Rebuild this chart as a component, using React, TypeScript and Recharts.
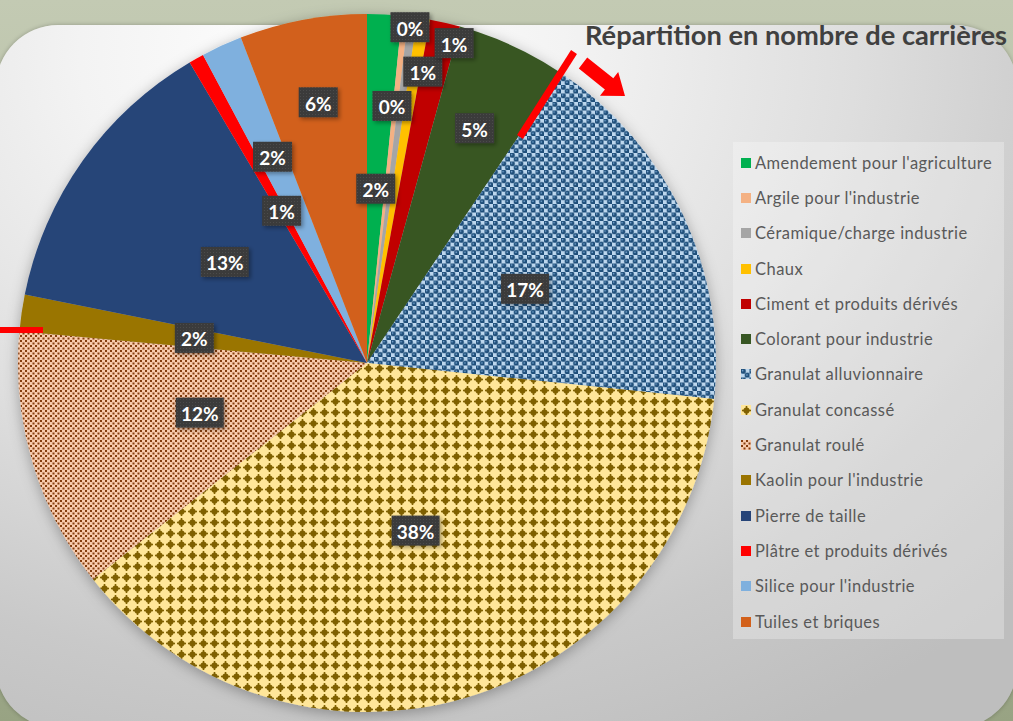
import React from 'react';
import { PieChart, Pie, Cell, Legend } from 'recharts';

// parts des carrières par usage (en %)
const categories = [
  "Amendement pour l'agriculture",
  "Argile pour l'industrie",
  'Céramique/charge industrie',
  'Chaux',
  'Ciment et produits dérivés',
  'Colorant pour industrie',
  'Granulat alluvionnaire',
  'Granulat concassé',
  'Granulat roulé',
  "Kaolin pour l'industrie",
  'Pierre de taille',
  'Plâtre et produits dérivés',
  "Silice pour l'industrie",
  'Tuiles et briques',
];
const values = [1.6, 0.3, 0.4, 0.6, 1.4, 5.1, 17.3, 37.8, 12.1, 1.7, 13.4, 0.7, 1.9, 5.9];

const fills = [
  '#00b050', '#f4b183', '#a5a5a5', '#ffc000', '#c00000', '#375623',
  'url(#patAlluv)', 'url(#patConc)', 'url(#patRoule)',
  '#9a7400', '#264478', '#ff0000', '#7fb0de', '#d2601a',
];

// where each data label sits (fraction of radius, angle nudge in degrees)
const labelRadius = [0.5, 0.97, 0.74, 0.85, 0.95, 0.74, 0.5, 0.5, 0.5, 0.5, 0.5, 0.5, 0.65, 0.76];
const labelShift = [0, -1, 2, -1.5, -2.3, 0, 0, 0, 0, 0, 0, 0, 0, 0];

const TITLE = 'Répartition en nombre de carrières';
const FONT = 'Lato, "Open Sans", sans-serif';

const data = categories.map((name, i) => ({ name, value: values[i] }));

const RAD = Math.PI / 180;

const renderLabel = (props: any) => {
  const { cx, cy, midAngle, outerRadius, percent, index } = props;
  const r = outerRadius * labelRadius[index];
  const a = midAngle + labelShift[index];
  const x = cx + r * Math.cos(-a * RAD);
  const y = cy + r * Math.sin(-a * RAD);
  const txt = `${Math.round(percent * 100)}%`;
  const w = 21 + 9 * txt.length;
  return (
    <g key={`lbl-${index}`}>
      <rect x={x - w / 2} y={y - 15} width={w} height={30} fill="url(#patLbl)" filter="url(#lblShadow)" />
      <text
        x={x}
        y={y + 1}
        textAnchor="middle"
        dominantBaseline="central"
        fill="#ffffff"
        fontFamily={FONT}
        fontWeight={700}
        fontSize={19}
      >
        {txt}
      </text>
    </g>
  );
};

const LegendBox = () => (
  <div
    style={{
      width: 271,
      height: 497,
      boxSizing: 'border-box',
      paddingTop: 3,
      paddingLeft: 8,
      background: 'rgba(255,255,255,0.28)',
      fontFamily: FONT,
      fontSize: 16.5,
      letterSpacing: 0.45,
      color: '#595959',
    }}
  >
    {categories.map((c, i) => (
      <div key={c} style={{ height: 35.3, display: 'flex', alignItems: 'center', whiteSpace: 'nowrap' }}>
        <svg width={10} height={10} style={{ marginRight: 4, flex: 'none' }}>
          <rect width={10} height={10} fill={fills[i]} />
        </svg>
        <span>{c}</span>
      </div>
    ))}
  </div>
);

export default function App() {
  return (
    <div style={{ position: 'absolute', left: 0, top: 0, width: 1013, height: 721, overflow: 'hidden',
      background: 'linear-gradient(180deg, #c3cab3 0%, #b2bb9f 50%, #98a383 100%)' }}>
      <style>{'.recharts-pie { filter: url(#pieShadow); }'}</style>
      <div
        style={{
          position: 'absolute',
          left: -4,
          top: 25,
          width: 1021,
          height: 703,
          borderRadius: 62,
          background: 'radial-gradient(ellipse 95% 110% at 32% 4%, #ffffff 0%, #f3f3f3 25%, #dedede 55%, #c9c9c9 80%, #bebebe 100%)',
          boxShadow: '0 0 4px rgba(0,0,0,0.25)',
        }}
      />
      <div style={{ position: 'absolute', left: 0, top: 0 }}>
        <PieChart width={1013} height={721} margin={{ top: 0, right: 0, bottom: 0, left: 0 }}>
          <defs>
            <pattern id="patAlluv" width="8.5" height="8.5" patternUnits="userSpaceOnUse">
              <rect width="8.5" height="8.5" fill="#bdd7ee" />
              <circle cx="2.1" cy="2.1" r="2.7" fill="#1f4e79" />
              <circle cx="6.35" cy="6.35" r="2.7" fill="#1f4e79" />
              <circle cx="1.6" cy="1.6" r="0.8" fill="#7aa8d4" />
              <circle cx="5.85" cy="5.85" r="0.8" fill="#7aa8d4" />
            </pattern>
            <pattern id="patConc" width="11" height="11" patternUnits="userSpaceOnUse">
              <rect width="11" height="11" fill="#ffe699" />
              <circle cx="5.5" cy="5.5" r="3.1" fill="#7f6000" />
              <rect x="4.7" y="1" width="1.6" height="9" fill="#7f6000" />
              <rect x="1" y="4.7" width="9" height="1.6" fill="#7f6000" />
            </pattern>
            <pattern id="patRoule" width="5" height="5" patternUnits="userSpaceOnUse">
              <rect width="5" height="5" fill="#f8cbad" />
              <rect x="0" y="0" width="2" height="2" fill="#843c0c" />
              <rect x="2.5" y="2.5" width="2" height="2" fill="#843c0c" />
            </pattern>
            <pattern id="patLbl" width="3" height="3" patternUnits="userSpaceOnUse">
              <rect width="3" height="3" fill="#3b3b3b" />
              <rect width="1" height="1" fill="#4b4b4b" />
            </pattern>
            <filter id="lblShadow" x="-30%" y="-30%" width="160%" height="160%">
              <feDropShadow dx="2" dy="2" stdDeviation="2" floodColor="#000" floodOpacity="0.35" />
            </filter>
            <filter id="pieShadow" x="-10%" y="-10%" width="120%" height="120%">
              <feDropShadow dx="0" dy="3" stdDeviation="7" floodColor="#000" floodOpacity="0.3" />
            </filter>
          </defs>
          <Pie
            data={data}
            dataKey="value"
            nameKey="name"
            cx={367}
            cy={363}
            outerRadius={349}
            startAngle={90}
            endAngle={-270}
            stroke="none"
            label={renderLabel}
            labelLine={false}
            isAnimationActive={false}
          >
            {data.map((d, i) => (
              <Cell key={d.name} fill={fills[i]} stroke="none" />
            ))}
          </Pie>
          <Legend
            layout="vertical"
            align="right"
            verticalAlign="top"
            content={() => <LegendBox />}
            wrapperStyle={{ left: 733, top: 142, width: 271, height: 497 }}
          />
        </PieChart>
      </div>
      <svg width={1013} height={721} style={{ position: 'absolute', left: 0, top: 0, pointerEvents: 'none' }}>
        <text
          x={585}
          y={45}
          fill="#404040"
          fontFamily={FONT}
          fontWeight={700}
          fontSize={26}
          textLength={422}
          lengthAdjust="spacingAndGlyphs"
        >
          {TITLE}
        </text>
        <line x1={574} y1={52} x2={520} y2={137} stroke="#ff0000" strokeWidth={7} />
        <polygon
          points="587.2,57.4 613.3,78.3 618.2,72 625,96 600,95.8 604.9,89.5 578.8,68.6"
          fill="#ff0000"
        />
        <rect x={0} y={327} width={43} height={6} fill="#ff0000" />
      </svg>
    </div>
  );
}
